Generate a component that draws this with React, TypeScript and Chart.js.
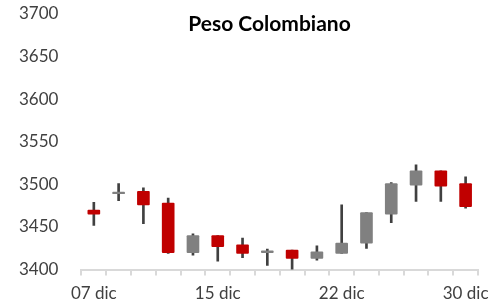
import React, { useEffect, useRef } from "react";
import { Chart, registerables } from "chart.js";

Chart.register(...registerables);

const title = "Peso Colombiano";
const categories = [
  "07 dic", "09 dic", "10 dic", "11 dic", "14 dic", "15 dic", "16 dic", "17 dic",
  "18 dic", "21 dic", "22 dic", "23 dic", "24 dic", "28 dic", "29 dic", "30 dic",
];
const opens = [3470, 3489, 3492, 3478, 3420, 3440, 3429, 3420, 3423, 3413, 3419, 3431, 3465, 3499, 3516, 3501];
const highs = [3479, 3501, 3496, 3484, 3442, 3440, 3437, 3424, 3423, 3428, 3476, 3467, 3502, 3523, 3516, 3509];
const lows = [3452, 3481, 3454, 3419, 3417, 3410, 3414, 3405, 3400, 3411, 3419, 3425, 3455, 3480, 3480, 3472];
const closes = [3465, 3491, 3476, 3420, 3440, 3427, 3419, 3422, 3413, 3421, 3431, 3467, 3501, 3516, 3498, 3474];
const yTicks = [3400, 3450, 3500, 3550, 3600, 3650, 3700];
const labelEvery = 5;

const RED = "#C00000";
const GRAY = "#808080";
const WICK = "#404040";
const AXIS = "#D9D9D9";
const TEXT = "#404040";
const FONT = "Lato, 'Open Sans', sans-serif";

export default function App() {
  const ref = useRef<HTMLCanvasElement | null>(null);

  useEffect(() => {
    document.body.style.margin = "0";
    if (!ref.current) return;
    const titlePlugin = {
      id: "customTitle",
      afterDraw(chart: any) {
        const ctx = chart.ctx;
        ctx.save();
        ctx.font = `bold 21px ${FONT}`;
        ctx.fillStyle = "#000000";
        ctx.textAlign = "center";
        ctx.textBaseline = "alphabetic";
        ctx.fillText(title, 269.5, 31);
        ctx.restore();
      },
    };
    const chart = new Chart(ref.current, {
      type: "bar",
      data: {
        labels: categories,
        datasets: [
          {
            label: "Cuerpo",
            data: opens.map((o, i) => [o, closes[i]]) as any,
            backgroundColor: opens.map((o, i) => (closes[i] < o ? RED : GRAY)),
            barThickness: 12,
            grouped: false,
            order: 0,
            borderRadius: 1,
            borderSkipped: false,
          },
          {
            label: "Rango",
            data: lows.map((l, i) => [l, highs[i]]) as any,
            backgroundColor: WICK,
            barThickness: 2,
            grouped: false,
            order: 1,
          },
        ],
      },
      options: {
        responsive: false,
        animation: false,
        layout: { padding: { left: 4, right: 24, top: 14, bottom: -5 } },
        plugins: {
          legend: { display: false },
          title: { display: false },
        },
        scales: {
          x: {
            type: "category",
            offset: true,
            grid: {
              display: true,
              offset: true,
              drawOnChartArea: false,
              drawTicks: true,
              tickLength: 6,
              color: AXIS,
              lineWidth: 2,
            },
            border: { display: true, color: AXIS, width: 2 },
            ticks: {
              autoSkip: false,
              maxRotation: 0,
              padding: 8,
              color: TEXT,
              font: { family: FONT, size: 17 },
              callback: (_v: any, idx: number) => (idx % labelEvery === 0 ? categories[idx] : ""),
            },
          },
          y: {
            min: yTicks[0],
            max: yTicks[yTicks.length - 1],
            afterBuildTicks: (axis: any) => {
              axis.ticks = yTicks.map((v) => ({ value: v }));
            },
            afterFit: (axis: any) => {
              axis.paddingTop = 0;
              axis.paddingBottom = 0;
            },
            grid: { display: false },
            border: { display: false },
            ticks: {
              padding: 15,
              color: TEXT,
              font: { family: FONT, size: 17 },
              callback: (v: any) => String(v),
            },
          },
        },
      },
      plugins: [titlePlugin],
    });
    return () => chart.destroy();
  }, []);

  return <canvas ref={ref} width={502} height={307} style={{ display: "block" }} />;
}
